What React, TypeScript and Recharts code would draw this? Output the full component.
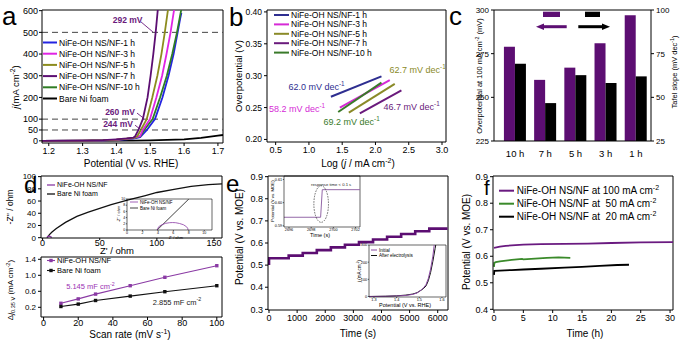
import React from 'react';
import {
  LineChart,
  Line,
  BarChart,
  Bar,
  XAxis,
  YAxis,
  ReferenceLine,
  ReferenceDot,
} from 'recharts';

const FONT = '"Liberation Sans", Arial, Helvetica, sans-serif';

const PURPLE = '#5c0e72';
const PURPLE_L = '#8a3aa4';

// ---- a: LSV curves [E vs RHE (V), j (mA cm-2)]
const lsvBare = [[1.18, 0], [1.3, 0], [1.45, 0.5], [1.5, 2], [1.55, 4], [1.6, 7], [1.65, 14], [1.7, 24], [1.715, 27]];
const lsv1h = [[1.18, 0], [1.3, 1], [1.36, 2], [1.4, 4], [1.43, 7], [1.45, 10], [1.47, 17], [1.49, 50], [1.514, 100], [1.536, 200], [1.554, 300], [1.569, 400], [1.581, 500], [1.588, 560], [1.592, 590]];
const lsv10h = [[1.18, 0], [1.3, 1], [1.36, 2.5], [1.4, 5], [1.43, 9], [1.45, 12], [1.47, 20], [1.482, 50], [1.507, 100], [1.529, 200], [1.549, 300], [1.565, 400], [1.579, 500], [1.591, 600], [1.594, 640]];
const lsv3h = [[1.18, 0], [1.3, 1], [1.36, 2.5], [1.4, 5], [1.43, 9], [1.45, 12], [1.47, 22], [1.478, 50], [1.499, 100], [1.518, 200], [1.535, 300], [1.548, 400], [1.56, 500], [1.57, 600], [1.573, 640]];
const lsv5h = [[1.18, 0], [1.3, 1], [1.36, 3], [1.4, 6], [1.43, 10], [1.45, 13], [1.462, 22], [1.472, 50], [1.4895, 100], [1.506, 200], [1.521, 300], [1.533, 400], [1.543, 500], [1.552, 600], [1.555, 640]];
const lsv7h = [[1.18, 0], [1.3, 1], [1.36, 3], [1.4, 7], [1.43, 11], [1.45, 15], [1.455, 20], [1.465, 50], [1.478, 100], [1.492, 200], [1.501, 300], [1.509, 400], [1.516, 500], [1.522, 600], [1.524, 640]];
const aNames = ['NiFe-OH NS/NF-1 h', 'NiFe-OH NS/NF-3 h', 'NiFe-OH NS/NF-5 h', 'NiFe-OH NS/NF-7 h', 'NiFe-OH NS/NF-10 h', 'Bare Ni foam'];
const aColors = ['#2424e0', '#e024e4', '#8c8c1e', PURPLE, '#2f7d24', '#000'];

// ---- b: Tafel lines [log j, overpotential (V)]
const taf1h = [[1.33, 0.267], [2.09, 0.299]];
const taf3h = [[1.465, 0.25], [2.215, 0.293]];
const taf5h = [[1.6, 0.242], [2.29, 0.287]];
const taf7h = [[1.765, 0.241], [2.39, 0.277]];
const taf10h = [[1.44, 0.243], [2.09, 0.289]];
const bNames = ['NiFe-OH NS/NF-1 h', 'NiFe-OH NS/NF-3 h', 'NiFe-OH NS/NF-5 h', 'NiFe-OH NS/NF-7 h', 'NiFe-OH NS/NF-10 h'];
const bColors = ['#2e2e90', '#d62ad6', '#8a8a28', '#6a1a7c', '#3a7a2a'];
const bSlopes = ['62.0', '58.2', '62.7', '46.7', '69.2'];
const bLabelPos = [[1.114, 0.2823], [0.821, 0.2478], [2.633, 0.309], [2.543, 0.251], [1.641, 0.2274]];

// ---- c: bars
const cCats = ['10 h', '7 h', '5 h', '3 h', '1 h'];
const cOverpot = [279, 260, 267, 281, 297];
const cTafel = [69.2, 46.7, 62.7, 58.2, 62.0];

// ---- d: Nyquist + Cdl
const nyqBare = [[3.9, 0], [6, 5], [8, 9], [12, 15], [20, 25], [30, 35], [40, 42], [50, 48], [60, 54], [75, 62], [90, 69], [100, 74], [115, 79], [130, 84], [145, 87], [157, 88]];
const nyqNiFe = [[3.9, 0], [4.5, 1.7], [5.5, 2.3], [6.5, 2.0], [7.5, 1], [7.9, 0]];
const nyqInsetNiFe = [[3.9, 0], [4.1, 1.05], [4.5, 1.7], [5.0, 2.15], [5.5, 2.35], [5.9, 2.4], [6.3, 2.35], [6.8, 2.1], [7.3, 1.7], [7.7, 1.05], [7.85, 0.55], [7.9, 0]];
const nyqInsetBare = [[3.9, 0], [8.0, 10]];
const cdlRates = [10, 20, 30, 50, 70, 100];
const cdlNiFe = [0.3, 0.41, 0.53, 0.74, 0.95, 1.24];
const cdlBare = [0.22, 0.28, 0.37, 0.48, 0.59, 0.74];

// ---- e: multistep chronopotentiometry
const stepTimes = [0, 0, 700, 1200, 1700, 2200, 2700, 3200, 3700, 4200, 4700, 5200, 5700, 6350];
const stepPot = [0.5, 0.531, 0.543, 0.555, 0.568, 0.58, 0.592, 0.604, 0.616, 0.628, 0.641, 0.653, 0.665, 0.665];
const zoomTimes = [2695.55, 2698.85, 2699.0, 2702.4];
const zoomPot = [0.5937, 0.5937, 0.6056, 0.6056];
const lsvInitial = [[1.278, 0], [1.35, 1], [1.4, 3], [1.44, 6], [1.47, 12], [1.49, 20], [1.51, 40], [1.52, 52], [1.53, 70], [1.54, 105], [1.55, 160], [1.56, 235], [1.565, 290], [1.57, 345]];
const lsvAfter = [[1.278, 0], [1.35, 1.5], [1.4, 4], [1.44, 8], [1.47, 14], [1.49, 22], [1.51, 38], [1.52, 48], [1.53, 62], [1.54, 92], [1.55, 140], [1.56, 205], [1.57, 280], [1.578, 340]];

// ---- f: chronopotentiometry [t (h), E (V)]
const cp100 = [[0, 0.632], [1, 0.636], [2, 0.639], [3, 0.641], [5, 0.644], [8, 0.646], [12, 0.647], [16, 0.648], [20, 0.65], [25, 0.652], [30.5, 0.653]];
const cp50 = [[0, 0.56], [0.05, 0.575], [0.3, 0.578], [1, 0.581], [3, 0.586], [4.8, 0.59], [5, 0.588], [7, 0.591], [9, 0.594], [11, 0.596], [12, 0.595], [13, 0.594]];
const cp20 = [[0, 0.53], [0.05, 0.545], [1, 0.546], [3, 0.548], [5, 0.55], [8, 0.553], [12, 0.557], [15, 0.56], [18, 0.564], [21, 0.567], [23, 0.568]];
const fNames = ['NiFe-OH NS/NF at 100 mA cm', 'NiFe-OH NS/NF at  50 mA cm', 'NiFe-OH NS/NF at  20 mA cm'];
const fColors = ['#6a1a80', '#3a8a2a', '#000'];

const pts = (a: number[][]) => a.map(([x, y]) => ({ x, y }));
const zip = (xs: number[], ys: number[]) => xs.map((x, i) => ({ x, y: ys[i] }));

const PAD = 8;
function place(b: number[], wl: number, hb: number, wr = 0) {
  return {
    style: { position: 'absolute' as const, left: b[0] - wl - PAD, top: b[1] - PAD },
    width: b[2] - b[0] + wl + wr + 2 * PAD,
    height: b[3] - b[1] + hb + 2 * PAD,
    margin: { top: PAD, right: PAD, bottom: PAD, left: PAD },
  };
}

const ax = (fs: number, size = 3, sw = 1, gap = 2) => ({
  axisLine: { stroke: '#000', strokeWidth: sw },
  tickLine: { stroke: '#000', strokeWidth: sw },
  tickSize: size,
  tickMargin: gap,
  interval: 0 as const,
  tick: { fontSize: fs, fill: '#000', fontFamily: FONT },
  allowDataOverflow: true,
});

const frame = (xmax: number, ymax: number, sw = 1) => [
  <ReferenceLine key="ft" y={ymax} stroke="#000" strokeWidth={sw} />,
  <ReferenceLine key="fr" x={xmax} stroke="#000" strokeWidth={sw} />,
];

const note = (
  key: string, x: number, y: number, main: string, sup: string | null,
  color: string, size: number, bold = false,
) => (
  <ReferenceDot
    key={key}
    x={x}
    y={y}
    r={0}
    ifOverflow="visible"
    shape={(p: any) => (
      <text x={p.cx} y={p.cy} fill={color} fontSize={size} fontFamily={FONT}
        fontWeight={bold ? 700 : 400} textAnchor="middle" dominantBaseline="central">
        {main}
        {sup && <tspan dy={-size * 0.4} fontSize={size * 0.7}>{sup}</tspan>}
      </text>
    )}
  />
);

const seg = (key: string, x1: number, y1: number, x2: number, y2: number, color: string) => (
  <ReferenceLine key={key} segment={[{ x: x1, y: y1 }, { x: x2, y: y2 }]} stroke={color} strokeWidth={0.9} ifOverflow="visible" />
);

function PanelA() {
  const p = place([42, 10, 223, 143], 30, 14);
  const series = [lsvBare, lsv1h, lsv10h, lsv3h, lsv5h, lsv7h];
  const colors = [aColors[5], aColors[0], aColors[4], aColors[1], aColors[2], aColors[3]];
  return (
    <div style={p.style}>
      <LineChart width={p.width} height={p.height} margin={p.margin}>
        <XAxis type="number" dataKey="x" domain={[1.18, 1.715]} ticks={[1.2, 1.3, 1.4, 1.5, 1.6, 1.7]}
          tickFormatter={(v: number) => v.toFixed(1)} height={14} {...ax(9)} />
        <YAxis type="number" domain={[-10, 603]} ticks={[0, 50, 100, 200, 300, 400, 500, 600]} width={30} {...ax(9, 3, 1, 1)} />
        {frame(1.715, 603)}
        {[50, 100, 500].map((v) => (
          <ReferenceLine key={v} y={v} stroke="#444" strokeDasharray="6 4" />
        ))}
        {series.map((s, i) => (
          <Line key={i} data={pts(s)} dataKey="y" stroke={colors[i]} strokeWidth={1.8}
            dot={false} isAnimationActive={false} />
        ))}
        {note('n1', 1.433, 557, '292 mV', null, '#6a1a7c', 8.5, true)}
        {seg('s1', 1.4727, 548, 1.508, 501.6, '#6a1a7c')}
        {note('n2', 1.4106, 133, '260 mV', null, '#6a1a7c', 8.5, true)}
        {seg('s2', 1.4608, 128, 1.4814, 103, '#6a1a7c')}
        {note('n3', 1.4047, 77.6, '244 mV', null, '#6a1a7c', 8.5, true)}
        {seg('s3', 1.455, 72, 1.4727, 51, '#6a1a7c')}
      </LineChart>
    </div>
  );
}

function PanelB() {
  const p = place([267, 10, 446, 142], 30, 14);
  const series = [taf1h, taf3h, taf5h, taf7h, taf10h];
  return (
    <div style={p.style}>
      <LineChart width={p.width} height={p.height} margin={p.margin}>
        <XAxis type="number" dataKey="x" domain={[0.37, 3.06]} ticks={[0.5, 1, 1.5, 2, 2.5, 3]}
          tickFormatter={(v: number) => v.toFixed(1)} height={14} {...ax(9)} />
        <YAxis type="number" domain={[0.196, 0.403]} ticks={[0.2, 0.25, 0.3, 0.35, 0.4]}
          tickFormatter={(v: number) => v.toFixed(2)} width={30} {...ax(8.5)} />
        {frame(3.06, 0.403)}
        {series.map((s, i) => (
          <Line key={i} data={pts(s)} dataKey="y" stroke={bColors[i]} strokeWidth={2}
            dot={false} isAnimationActive={false} />
        ))}
        {bSlopes.map((s, i) =>
          note('b' + i, bLabelPos[i][0], bLabelPos[i][1], s + ' mV dec', '-1', bColors[i], 9))}
      </LineChart>
    </div>
  );
}

function PanelC() {
  const p = place([494, 10, 651, 141], 26, 20, 24);
  const data = cCats.map((c, i) => ({ cat: c, eta: cOverpot[i], tafel: cTafel[i] }));
  return (
    <div style={p.style}>
      <BarChart width={p.width} height={p.height} margin={p.margin} data={data} barCategoryGap="13%" barGap={0}>
        <XAxis dataKey="cat" padding={{ left: 6, right: 0 }} height={20} axisLine={{ stroke: '#000' }}
          tickLine={{ stroke: 'none' }} tickSize={6} tickMargin={3} interval={0}
          tick={{ fontSize: 9.5, fill: '#000', fontFamily: FONT }} />
        <YAxis yAxisId="l" domain={[225, 300]} ticks={[225, 250, 275, 300]} width={26} {...ax(8)} />
        <YAxis yAxisId="r" orientation="right" domain={[25, 100]} ticks={[25, 50, 75, 100]} width={24} {...ax(8)} />
        <ReferenceLine yAxisId="l" y={300} stroke="#000" />
        <Bar yAxisId="l" dataKey="eta" fill={PURPLE} isAnimationActive={false} />
        <Bar yAxisId="r" dataKey="tafel" fill="#000" isAnimationActive={false} />
      </BarChart>
    </div>
  );
}

function PanelD() {
  const p1 = place([41, 176, 222, 238], 28, 12);
  const p2 = place([41, 257, 222, 317], 28, 14);
  const pi = place([127, 199, 212, 230], 8, 6);
  const sq = (color: string) => (d: any) => (
    <rect key={d.index} x={d.cx - 1.7} y={d.cy - 1.7} width={3.4} height={3.4} fill={color} />
  );
  return (
    <>
      <div style={p1.style}>
        <LineChart width={p1.width} height={p1.height} margin={p1.margin}>
          <XAxis type="number" dataKey="x" domain={[-1.4, 157]} ticks={[0, 50, 100, 150]} height={12} {...ax(9, 2, 1, 0)} />
          <YAxis type="number" domain={[-0.5, 101]} ticks={[0, 20, 40, 60, 80, 100]} width={28} {...ax(8)} />
          {frame(157, 101)}
          <Line data={pts(nyqBare)} dataKey="y" stroke="#111" strokeWidth={1.3} dot={false} isAnimationActive={false} />
          <Line data={pts(nyqNiFe)} dataKey="y" stroke={PURPLE_L} strokeWidth={1.3} dot={false} isAnimationActive={false} />
        </LineChart>
      </div>
      <div style={pi.style}>
        <LineChart width={pi.width} height={pi.height} margin={pi.margin}>
          <XAxis type="number" dataKey="x" domain={[0, 11]} ticks={[0, 2, 4, 6, 8, 10]} height={6} {...ax(3.6, 1.2, 0.6, 0.3)} />
          <YAxis type="number" domain={[0, 10]} ticks={[0, 2, 4, 6, 8, 10]} width={8} {...ax(3.5, 1.2, 0.6, 0.6)} />
          {frame(11, 10, 0.6)}
          <Line data={pts(nyqInsetBare)} dataKey="y" stroke="#111" strokeWidth={0.8} dot={false} isAnimationActive={false} />
          <Line data={pts(nyqInsetNiFe)} dataKey="y" stroke={PURPLE_L} strokeWidth={0.8} dot={false} isAnimationActive={false} />
        </LineChart>
      </div>
      <div style={p2.style}>
        <LineChart width={p2.width} height={p2.height} margin={p2.margin}>
          <XAxis type="number" dataKey="x" domain={[-1.5, 103]} ticks={[0, 20, 40, 60, 80, 100]} height={14} {...ax(9, 3, 1, 0)} />
          <YAxis type="number" domain={[-0.0425, 1.4575]} ticks={[0.2, 0.6, 1.0, 1.4]}
            tickFormatter={(v: number) => v.toFixed(1)} width={28} {...ax(8)} />
          {frame(103, 1.4575)}
          <Line data={zip(cdlRates, cdlNiFe)} dataKey="y" stroke={PURPLE_L} strokeWidth={1.1}
            dot={sq(PURPLE_L)} isAnimationActive={false} />
          <Line data={zip(cdlRates, cdlBare)} dataKey="y" stroke="#111" strokeWidth={1.1}
            dot={sq('#111')} isAnimationActive={false} />
          {note('d1', 27, 0.715, '5.145 mF cm', '-2', '#9b32b4', 7.5)}
          {note('d2', 77, 0.3325, '2.855 mF cm', '-2', '#222', 7.5)}
        </LineChart>
      </div>
    </>
  );
}

function PanelE() {
  const p = place([268, 176, 448, 310], 30, 14);
  const p1 = place([284, 176, 360, 227], 10, 6);
  const p2 = place([369, 245, 446, 297], 9, 6);
  return (
    <>
      <div style={p.style}>
        <LineChart width={p.width} height={p.height} margin={p.margin}>
          <XAxis type="number" dataKey="x" domain={[-36, 6366]} ticks={[0, 1000, 2000, 3000, 4000, 5000, 6000]} height={14} {...ax(9)} />
          <YAxis type="number" domain={[0.297, 0.903]} ticks={[0.3, 0.4, 0.5, 0.6, 0.7, 0.8, 0.9]}
            tickFormatter={(v: number) => v.toFixed(1)} width={30} {...ax(9)} />
          {frame(6366, 0.903)}
          <Line type="stepAfter" data={zip(stepTimes, stepPot)} dataKey="y" stroke={PURPLE} strokeWidth={2.6}
            dot={false} isAnimationActive={false} />
        </LineChart>
      </div>
      <div style={p1.style}>
        <LineChart width={p1.width} height={p1.height} margin={p1.margin}>
          <XAxis type="number" dataKey="x" domain={[2695.55, 2702.4]} ticks={[2696, 2698, 2700, 2702]} height={6} {...ax(3.8, 1.2, 0.6, 0.6)} />
          <YAxis type="number" domain={[0.5895, 0.6115]} ticks={[0.59, 0.6, 0.61]}
            tickFormatter={(v: number) => v.toFixed(2)} width={10} {...ax(3.8, 1.2, 0.6, 0.6)} />
          {frame(2702.4, 0.6115, 0.6)}
          <Line data={zip(zoomTimes, zoomPot)} dataKey="y" stroke="#9468a8" strokeWidth={1}
            dot={false} isAnimationActive={false} />
          {note('e1', 2699.8, 0.608, 'response time < 0.1 s', null, '#222', 4.2)}
          <ReferenceDot x={2698.9} y={0.5994} r={0} ifOverflow="visible"
            shape={(q: any) => (
              <ellipse cx={q.cx} cy={q.cy} rx={7.3} ry={18.3} fill="none" stroke="#333"
                strokeWidth={0.7} strokeDasharray="1.6 1.1" />
            )} />
        </LineChart>
      </div>
      <div style={p2.style}>
        <LineChart width={p2.width} height={p2.height} margin={p2.margin}>
          <XAxis type="number" dataKey="x" domain={[1.278, 1.618]} ticks={[1.3, 1.4, 1.5, 1.6]}
            tickFormatter={(v: number) => v.toFixed(1)} height={6} {...ax(3.8, 1.2, 0.6, 0.6)} />
          <YAxis type="number" domain={[-3, 300]} ticks={[0, 100, 200, 300]} width={9} {...ax(3.8, 1.2, 0.6, 0.6)} />
          {frame(1.618, 300, 0.6)}
          <Line data={pts(lsvAfter)} dataKey="y" stroke="#111" strokeWidth={1} dot={false} isAnimationActive={false} />
          <Line data={pts(lsvInitial)} dataKey="y" stroke="#8a4aa2" strokeWidth={1} dot={false} isAnimationActive={false} />
        </LineChart>
      </div>
    </>
  );
}

function PanelF() {
  const p = place([493, 176, 673, 310], 30, 14);
  const series = [cp100, cp50, cp20];
  return (
    <div style={p.style}>
      <LineChart width={p.width} height={p.height} margin={p.margin}>
        <XAxis type="number" dataKey="x" domain={[-0.17, 30.5]} ticks={[0, 5, 10, 15, 20, 25, 30]} height={14} {...ax(9)} />
        <YAxis type="number" domain={[0.3974, 0.9026]} ticks={[0.4, 0.5, 0.6, 0.7, 0.8, 0.9]}
          tickFormatter={(v: number) => v.toFixed(1)} width={30} {...ax(9)} />
        {frame(30.5, 0.9026)}
        {series.map((s, i) => (
          <Line key={i} data={pts(s)} dataKey="y" stroke={fColors[i]} strokeWidth={1.8}
            dot={false} isAnimationActive={false} />
        ))}
      </LineChart>
    </div>
  );
}

type TP = {
  x: number; y: number; s: number; c?: string; rot?: boolean;
  anchor?: 'start' | 'middle' | 'end'; w?: number; children: React.ReactNode;
};
function T({ x, y, s, c = '#000', rot = false, anchor = 'middle', w = 400, children }: TP) {
  return (
    <text x={x} y={y} fontSize={s} fill={c} fontFamily={FONT} textAnchor={anchor} fontWeight={w}
      style={{ whiteSpace: 'pre' }} transform={rot ? `rotate(-90 ${x} ${y})` : undefined}>
      {children}
    </text>
  );
}
const Sup = ({ s, t, after }: { s: number; t: string; after?: string }) => (
  <>
    <tspan dy={-s * 0.38} fontSize={s * 0.7}>{t}</tspan>
    {after !== undefined && <tspan dy={s * 0.38}>{after}</tspan>}
  </>
);

function Overlay() {
  return (
    <svg width={680} height={346} style={{ position: 'absolute', left: 0, top: 0, pointerEvents: 'none' }}>
      {/* panel letters */}
      <T x={2} y={25} s={26} anchor="start">a</T>
      <T x={229} y={26} s={26} anchor="start">b</T>
      <T x={449} y={25} s={26} anchor="start">c</T>
      <T x={24} y={193} s={24} anchor="start">d</T>
      <T x={226} y={192} s={24} anchor="start">e</T>
      <T x={484} y={194.5} s={20} anchor="start">f</T>

      {/* a */}
      <T x={131} y={167} s={10}>Potential (V vs. RHE)</T>
      <T x={19} y={87} s={9.5} rot>
        <tspan fontStyle="italic">j</tspan>(mA cm<Sup s={9.5} t="-2" after=")" />
      </T>
      {aNames.map((n, i) => (
        <g key={n}>
          <line x1={43} x2={57} y1={42.5 + i * 11.2} y2={42.5 + i * 11.2} stroke={aColors[i]} strokeWidth={2} />
          <T x={59} y={45.5 + i * 11.2} s={8.5} anchor="start">{n}</T>
        </g>
      ))}

      {/* b */}
      <T x={358} y={167} s={10}>
        Log (<tspan fontStyle="italic">j</tspan> / mA cm<Sup s={10} t="-2" after=")" />
      </T>
      <T x={242} y={76} s={9.5} rot>Overpotential (V)</T>
      {bNames.map((n, i) => (
        <g key={n}>
          <line x1={274} x2={289} y1={15 + i * 9.4} y2={15 + i * 9.4} stroke={bColors[i]} strokeWidth={2} />
          <T x={291} y={18 + i * 9.4} s={8.5} anchor="start">{n}</T>
        </g>
      ))}

      {/* c */}
      <T x={482} y={76} s={7.5} rot>
        Overpotential at 100 mA cm<Sup s={7.5} t="-2" after=" (mV)" />
      </T>
      <T x={677} y={72} s={7.5} rot>
        Tafel slope (mV dec<Sup s={7.5} t="-1" after=")" />
      </T>
      <rect x={543} y={11.7} width={17} height={5.3} fill={PURPLE} />
      <rect x={585} y={11.7} width={15} height={5.3} fill="#000" />
      <line x1={566.7} x2={542} y1={26.7} y2={26.7} stroke={PURPLE} strokeWidth={3} />
      <polygon points="536,26.7 544,23.4 544,30" fill={PURPLE} />
      <line x1={578.3} x2={604} y1={26.7} y2={26.7} stroke="#000" strokeWidth={3} />
      <polygon points="610,26.7 602,23.4 602,30" fill="#000" />

      {/* d */}
      <T x={13} y={207} s={8.5} rot>-Z'' / ohm</T>
      <T x={117} y={254} s={9.5}>Z' / ohm</T>
      <T x={13} y={290} s={8} rot>
        Δ<tspan fontStyle="italic">j</tspan>
        <tspan dy={2} fontSize={5.6}>0.35 V</tspan>
        <tspan dy={-2}> (mA cm</tspan><Sup s={8} t="-2" after=")" />
      </T>
      <T x={130} y={338} s={10}>
        Scan rate (mV s<Sup s={10} t="-1" after=")" />
      </T>
      <line x1={47} x2={55} y1={185} y2={185} stroke={PURPLE_L} strokeWidth={1.3} />
      <T x={57} y={187.3} s={7} anchor="start">NiFe-OH NS/NF</T>
      <line x1={47} x2={55} y1={194} y2={194} stroke="#111" strokeWidth={1.3} />
      <T x={57} y={196.3} s={7} anchor="start">Bare Ni foam</T>
      <line x1={47} x2={55} y1={260.5} y2={260.5} stroke={PURPLE_L} strokeWidth={1.1} />
      <rect x={49.3} y={258.8} width={3.4} height={3.4} fill={PURPLE_L} />
      <T x={57} y={263} s={7.5} anchor="start">NiFe-OH NS/NF</T>
      <line x1={47} x2={55} y1={270.5} y2={270.5} stroke="#111" strokeWidth={1.1} />
      <rect x={49.3} y={268.8} width={3.4} height={3.4} fill="#111" />
      <T x={57} y={273} s={7.5} anchor="start">Bare Ni foam</T>
      <line x1={130} x2={138} y1={202} y2={202} stroke={PURPLE_L} strokeWidth={0.8} />
      <T x={140} y={203.5} s={4.5} anchor="start">NiFe-OH NS/NF</T>
      <line x1={130} x2={138} y1={208} y2={208} stroke="#111" strokeWidth={0.8} />
      <T x={140} y={209.5} s={4.5} anchor="start">Bare Ni foam</T>
      <T x={176} y={238.5} s={4}>Z' / ohm</T>
      <T x={120} y={214} s={4} rot>-Z'' / ohm</T>

      {/* e */}
      <T x={243} y={237} s={10} rot>Potential (V vs. MOE)</T>
      <T x={358} y={337} s={10}>Time (s)</T>
      <T x={274} y={201} s={4.3} rot>Potential (V vs. MOE)</T>
      <T x={320} y={237} s={5.5}>Time (s)</T>
      <line x1={371} x2={377} y1={250} y2={250} stroke="#8a4aa2" strokeWidth={1} />
      <T x={379} y={251.6} s={4.6} anchor="start">Initial</T>
      <line x1={371} x2={377} y1={255.5} y2={255.5} stroke="#111" strokeWidth={1} />
      <T x={379} y={257.1} s={4.6} anchor="start">After electrolysis</T>
      <T x={405} y={307} s={5.5}>Potential (V vs. RHE)</T>
      <T x={361} y={271} s={4.5} rot>
        <tspan fontStyle="italic">j</tspan> (mA cm<Sup s={4.5} t="-2" after=")" />
      </T>

      {/* f */}
      <T x={470} y={242} s={10} rot>Potential (V vs. MOE)</T>
      <T x={585} y={337} s={10}>Time (h)</T>
      {fNames.map((n, i) => (
        <g key={n}>
          <line x1={499} x2={514} y1={190.7 + i * 13} y2={190.7 + i * 13} stroke={fColors[i]} strokeWidth={2} />
          <T x={516.7} y={194.2 + i * 13} s={10} anchor="start">
            {n}<Sup s={10} t="-2" />
          </T>
        </g>
      ))}
    </svg>
  );
}

export default function App() {
  return (
    <div style={{ position: 'absolute', left: 0, top: 0, width: 680, height: 346, background: '#fff', overflow: 'hidden' }}>
      <PanelA />
      <PanelB />
      <PanelC />
      <PanelD />
      <PanelE />
      <PanelF />
      <Overlay />
    </div>
  );
}
